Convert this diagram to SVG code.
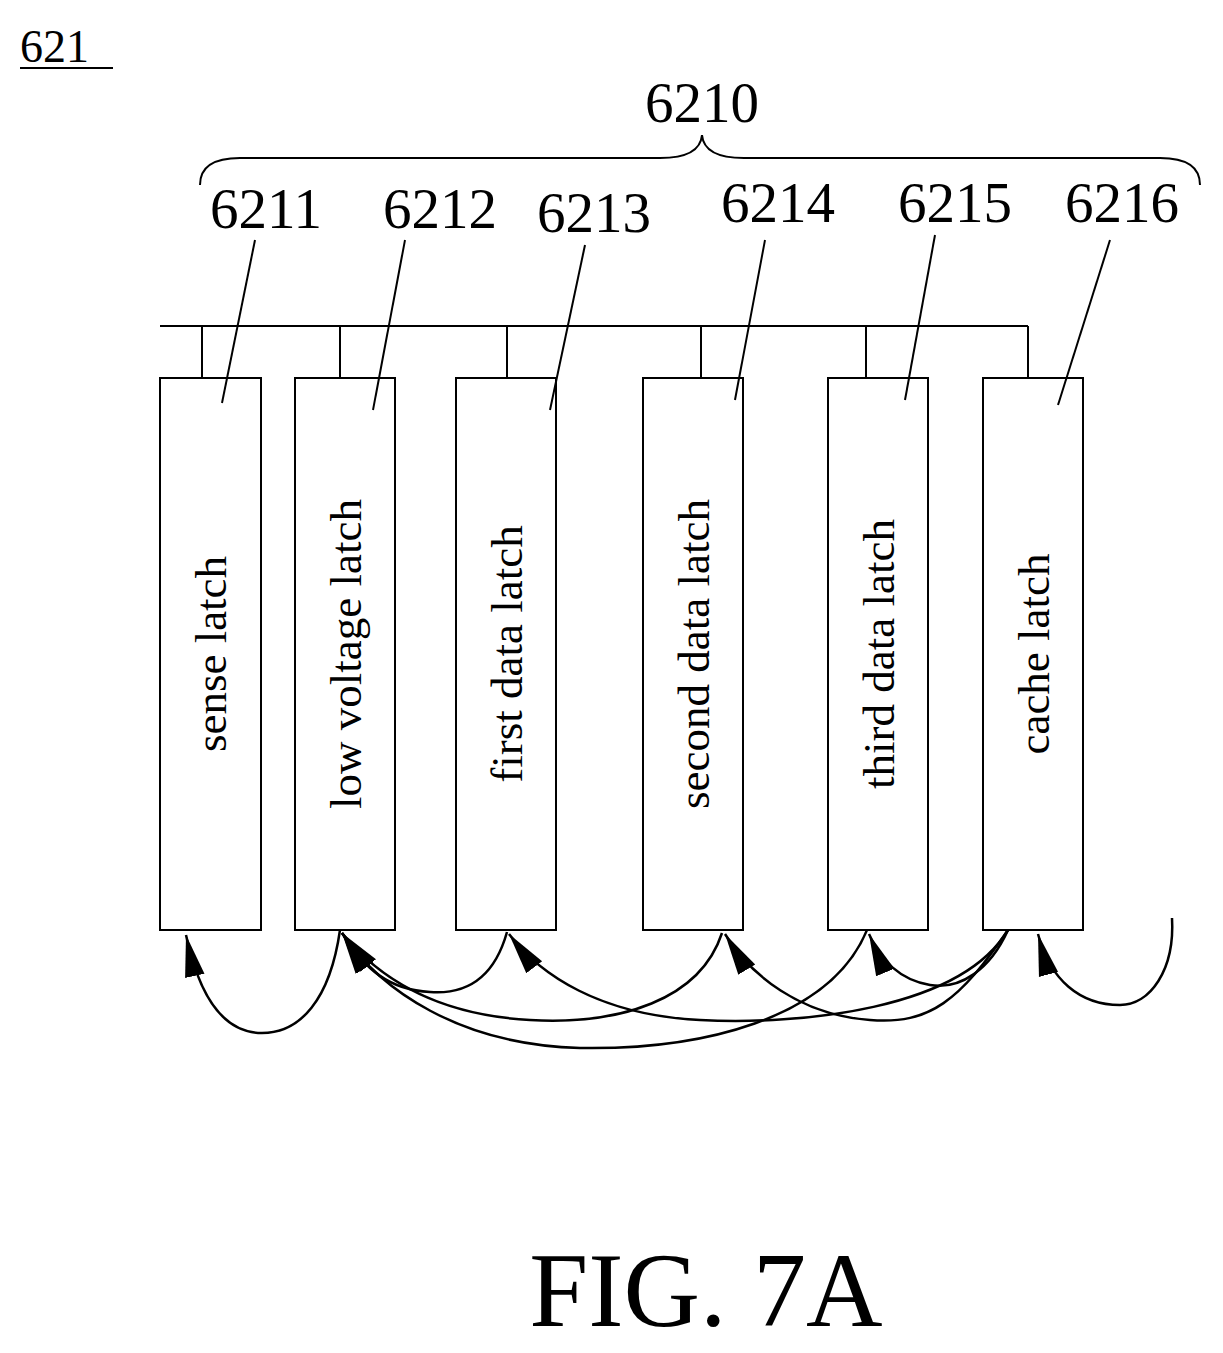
<svg xmlns="http://www.w3.org/2000/svg" width="1223" height="1353" viewBox="0 0 1223 1353">
<style>
.t{font-family:"Liberation Serif",serif;fill:#000}
.l{font-size:57px;text-anchor:middle}
.b{font-size:45px;text-anchor:middle}
.s{fill:none;stroke:#000;stroke-width:2}
.c{fill:none;stroke:#000;stroke-width:2.5;marker-end:url(#a)}
</style>
<defs><marker id="a" markerUnits="userSpaceOnUse" markerWidth="44" markerHeight="24" refX="38" refY="9" orient="auto" viewBox="0 0 40 18"><path d="M0,0L38,9L0,18Z"/></marker></defs>
<rect width="1223" height="1353" fill="#fff"/>
<text class="t" x="20" y="62" font-size="46">621</text>
<line x1="20" y1="68" x2="113" y2="68" class="s"/>
<text class="t l" x="702" y="122">6210</text>
<path class="s" d="M200,185 Q200,158 240,158 L660,158 Q700,158 702,135 Q704,158 744,158 L1160,158 Q1200,158 1200,185"/>
<g id="bus"><path class="s" d="M160,326H1028M202,326V378M340,326V378M507,326V378M701,326V378M866,326V378M1028,326V378"/></g>
<g id="n6211"><rect class="s" x="160" y="378" width="101" height="552"/><text class="t b" transform="translate(226,654) rotate(-90)">sense latch</text><text class="t l" x="266" y="228">6211</text><line class="s" x1="222" y1="403" x2="255" y2="240"/></g>
<g id="n6212"><rect class="s" x="295" y="378" width="100" height="552"/><text class="t b" transform="translate(361,654) rotate(-90)">low voltage latch</text><text class="t l" x="440" y="228">6212</text><line class="s" x1="373" y1="410" x2="405" y2="240"/></g>
<g id="n6213"><rect class="s" x="456" y="378" width="100" height="552"/><text class="t b" transform="translate(522,654) rotate(-90)">first data latch</text><text class="t l" x="594" y="232">6213</text><line class="s" x1="550" y1="410" x2="585" y2="245"/></g>
<g id="n6214"><rect class="s" x="643" y="378" width="100" height="552"/><text class="t b" transform="translate(709,654) rotate(-90)">second data latch</text><text class="t l" x="778" y="222">6214</text><line class="s" x1="735" y1="400" x2="765" y2="240"/></g>
<g id="n6215"><rect class="s" x="828" y="378" width="100" height="552"/><text class="t b" transform="translate(894,654) rotate(-90)">third data latch</text><text class="t l" x="955" y="222">6215</text><line class="s" x1="905" y1="400" x2="935" y2="235"/></g>
<g id="n6216"><rect class="s" x="983" y="378" width="100" height="552"/><text class="t b" transform="translate(1049,654) rotate(-90)">cache latch</text><text class="t l" x="1122" y="222">6216</text><line class="s" x1="1058" y1="405" x2="1110" y2="240"/></g>
<g id="connectors">
<path class="c" d="M340,930 C330,1000 300,1033 262,1033 C225,1033 200,1000 186,935"/>
<path class="c" d="M507,932 C495,975 470,995 430,992 C390,990 365,970 342,933"/>
<path class="c" d="M722,933 C700,1000 620,1025 530,1020 C440,1015 380,980 342,933"/>
<path class="c" d="M867,930 C830,1020 700,1050 580,1048 C460,1045 380,990 342,933"/>
<path class="c" d="M1008,930 C960,1010 800,1025 700,1020 C600,1015 540,975 509,934"/>
<path class="c" d="M1008,930 C960,1000 930,1025 870,1020 C800,1015 750,975 725,934"/>
<path class="c" d="M1008,930 C990,970 960,990 930,985 C900,980 880,960 869,934"/>
<path class="c" d="M1172,918 C1175,970 1150,1005 1120,1005 C1080,1005 1050,980 1038,934"/>
</g>
<text class="t" x="706" y="1326" font-size="106" text-anchor="middle">FIG. 7A</text>
</svg>
